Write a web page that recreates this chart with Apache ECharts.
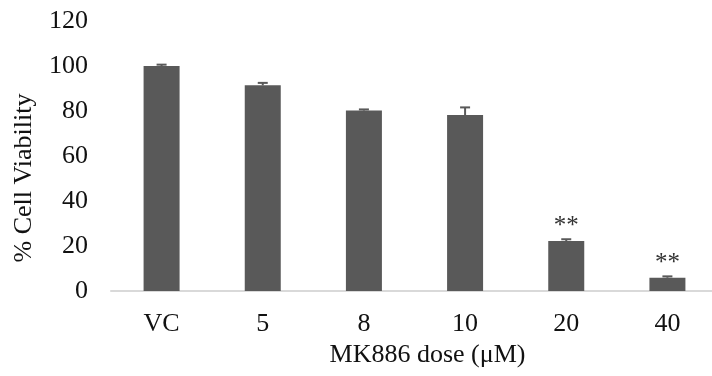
<!DOCTYPE html>
<html>
<head>
<meta charset="utf-8">
<script src="https://cdn.jsdelivr.net/npm/echarts@6/dist/echarts.min.js"></script>
<style>
html, body { margin: 0; padding: 0; background: #fff; }
#chart { width: 712px; height: 376px; }
</style>
</head>
<body>
<div id="chart"></div>
<script>
// dose groups and % viability
var doses = ['VC', '5', '8', '10', '20', '40'];
var viability = [100, 91.4, 80.2, 78.2, 22.2, 5.9];
var errors = [0.6, 1.1, 0.5, 3.4, 0.8, 0.6];
var marks = ['', '', '', '', '**', '**'];

var chart = echarts.init(document.getElementById('chart'));

var errData = [];
for (var i = 0; i < doses.length; i++) {
	errData.push([i, viability[i], errors[i]]);
}

var font = 'Liberation Serif, Times New Roman, serif';

chart.setOption({
	backgroundColor : '#fff',
	animation : false,
	grid : {
		left : 111,
		top : 21,
		width : 607,
		bottom : 85,
		containLabel : false,
		outerBoundsMode : 'none'
	},
	xAxis : {
		type : 'category',
		data : doses,
		name : 'MK886 dose (μM)',
		nameLocation : 'middle',
		nameGap : 42,
		nameTextStyle : {
			color : '#111',
			fontFamily : font,
			fontSize : 26,
			padding : [0, 0, 0, 26]
		},
		axisLine : {
			lineStyle : {
				color : '#d9d9d9',
				width : 2
			}
		},
		axisTick : { show : false },
		axisLabel : {
			color : '#111',
			fontFamily : font,
			fontSize : 26,
			margin : 20
		}
	},
	yAxis : {
		type : 'value',
		min : 0,
		max : 120,
		interval : 20,
		name : '% Cell Viability',
		nameLocation : 'middle',
		nameGap : 74,
		nameTextStyle : {
			color : '#111',
			fontFamily : font,
			fontSize : 26,
			padding : [0, 44, 0, 0]
		},
		splitLine : { show : false },
		axisLine : { show : false },
		axisTick : { show : false },
		axisLabel : {
			color : '#111',
			fontFamily : font,
			fontSize : 26,
			margin : 23,
			padding : [8, 0, 0, 0]
		}
	},
	series : [ {
		type : 'bar',
		barWidth : 36,
		data : viability,
		itemStyle : {
			color : '#595959'
		},
		label : {
			show : true,
			position : 'top',
			distance : 2,
			color : '#333',
			fontFamily : font,
			fontSize : 25,
			formatter : function(p) {
				return marks[p.dataIndex];
			}
		}
	}, {
		// error bars, upper half only (lower half hidden by the bar)
		type : 'custom',
		data : errData,
		z : 3,
		renderItem : function(params, api) {
			var top = api.coord([api.value(0), api.value(1) + api.value(2)]);
			var base = api.coord([api.value(0), api.value(1)]);
			var style = { stroke : '#595959', lineWidth : 2 };
			return {
				type : 'group',
				children : [ {
					type : 'line',
					shape : { x1 : base[0], y1 : base[1], x2 : top[0], y2 : top[1] },
					style : style
				}, {
					type : 'line',
					shape : { x1 : top[0] - 5, y1 : top[1], x2 : top[0] + 5, y2 : top[1] },
					style : style
				} ]
			};
		}
	} ]
});
</script>
</body>
</html>
